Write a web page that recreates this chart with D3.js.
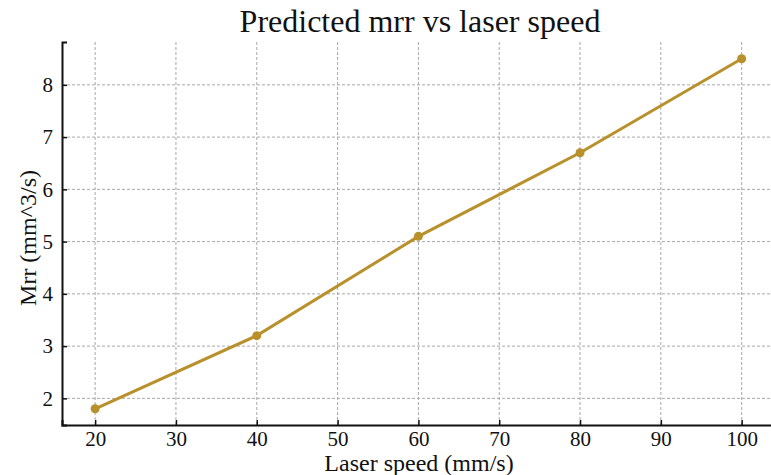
<!DOCTYPE html>
<html>
<head>
<meta charset="utf-8">
<script src="https://cdn.jsdelivr.net/npm/d3@7"></script>
<style>
  body { margin: 0; background: #fff; }
  text { font-family: "Liberation Serif", "Times New Roman", serif; fill: #111; }
</style>
</head>
<body>
<div id="chart"></div>
<script>
// data
const speeds = [20, 40, 60, 80, 100];
const mrr = [1.8, 3.2, 5.1, 6.7, 8.5];
const xTicks = [20, 30, 40, 50, 60, 70, 80, 90, 100];
const yTicks = [2, 3, 4, 5, 6, 7, 8];
const title = 'Predicted mrr vs laser speed';
const xLabel = 'Laser speed (mm/s)';
const yLabel = 'Mrr (mm^3/s)';

let width = 771, height = 475;
let margin = { top: 42, right: -3, bottom: 50, left: 62 };

let svg = d3.select('#chart').append('svg')
    .attr('width', width)
    .attr('height', height);

let x = d3.scaleLinear().domain([15.9, 104]).range([margin.left, width - margin.right]);
let y = d3.scaleLinear().domain([1.49, 8.82]).range([height - margin.bottom, margin.top]);

// grid
svg.append('g')
    .selectAll('line')
    .data(xTicks)
    .join('line')
    .attr('x1', d => x(d)).attr('x2', d => x(d))
    .attr('y1', y.range()[1]).attr('y2', y.range()[0])
    .attr('stroke', '#a8a8a8')
    .attr('stroke-width', 1)
    .attr('stroke-dasharray', '3,2');

svg.append('g')
    .selectAll('line')
    .data(yTicks)
    .join('line')
    .attr('x1', margin.left).attr('x2', width)
    .attr('y1', d => y(d)).attr('y2', d => y(d))
    .attr('stroke', '#a8a8a8')
    .attr('stroke-width', 1)
    .attr('stroke-dasharray', '3,2');

// axes, ticks point inward
let xAxis = svg.append('g')
    .attr('transform', `translate(0,${height - margin.bottom})`)
    .call(d3.axisBottom(x).tickValues(xTicks).tickSize(-5).tickPadding(6));
let yAxis = svg.append('g')
    .attr('transform', `translate(${margin.left},0)`)
    .call(d3.axisLeft(y).tickValues(yTicks).tickSize(-5).tickPadding(9));

[xAxis, yAxis].forEach(g => {
    g.attr('font-family', '"Liberation Serif", serif').attr('font-size', 21);
    g.select('.domain').attr('stroke', '#111').attr('stroke-width', 2);
    g.selectAll('.tick line').attr('stroke', '#111').attr('stroke-width', 1.5);
    g.selectAll('.tick text')
        .style('font-family', '"Liberation Serif", serif')
        .style('font-size', '21px')
        .attr('fill', '#111');
});

// line + points
let line = d3.line()
    .x((d, i) => x(speeds[i]))
    .y(d => y(d));

svg.append('path')
    .datum(mrr)
    .attr('d', line)
    .attr('fill', 'none')
    .attr('stroke', '#b8902c')
    .attr('stroke-width', 3);

svg.append('g')
    .selectAll('circle')
    .data(mrr)
    .join('circle')
    .attr('cx', (d, i) => x(speeds[i]))
    .attr('cy', d => y(d))
    .attr('r', 4.5)
    .attr('fill', '#b8902c');

// titles
svg.append('text')
    .attr('x', 420).attr('y', 32)
    .attr('text-anchor', 'middle')
    .style('font-size', '32px')
    .text(title);

svg.append('text')
    .attr('x', 419).attr('y', 471)
    .attr('text-anchor', 'middle')
    .style('font-size', '24px')
    .text(xLabel);

svg.append('text')
    .attr('transform', 'translate(36,238) rotate(-90)')
    .attr('text-anchor', 'middle')
    .style('font-size', '24px')
    .text(yLabel);
</script>
</body>
</html>
